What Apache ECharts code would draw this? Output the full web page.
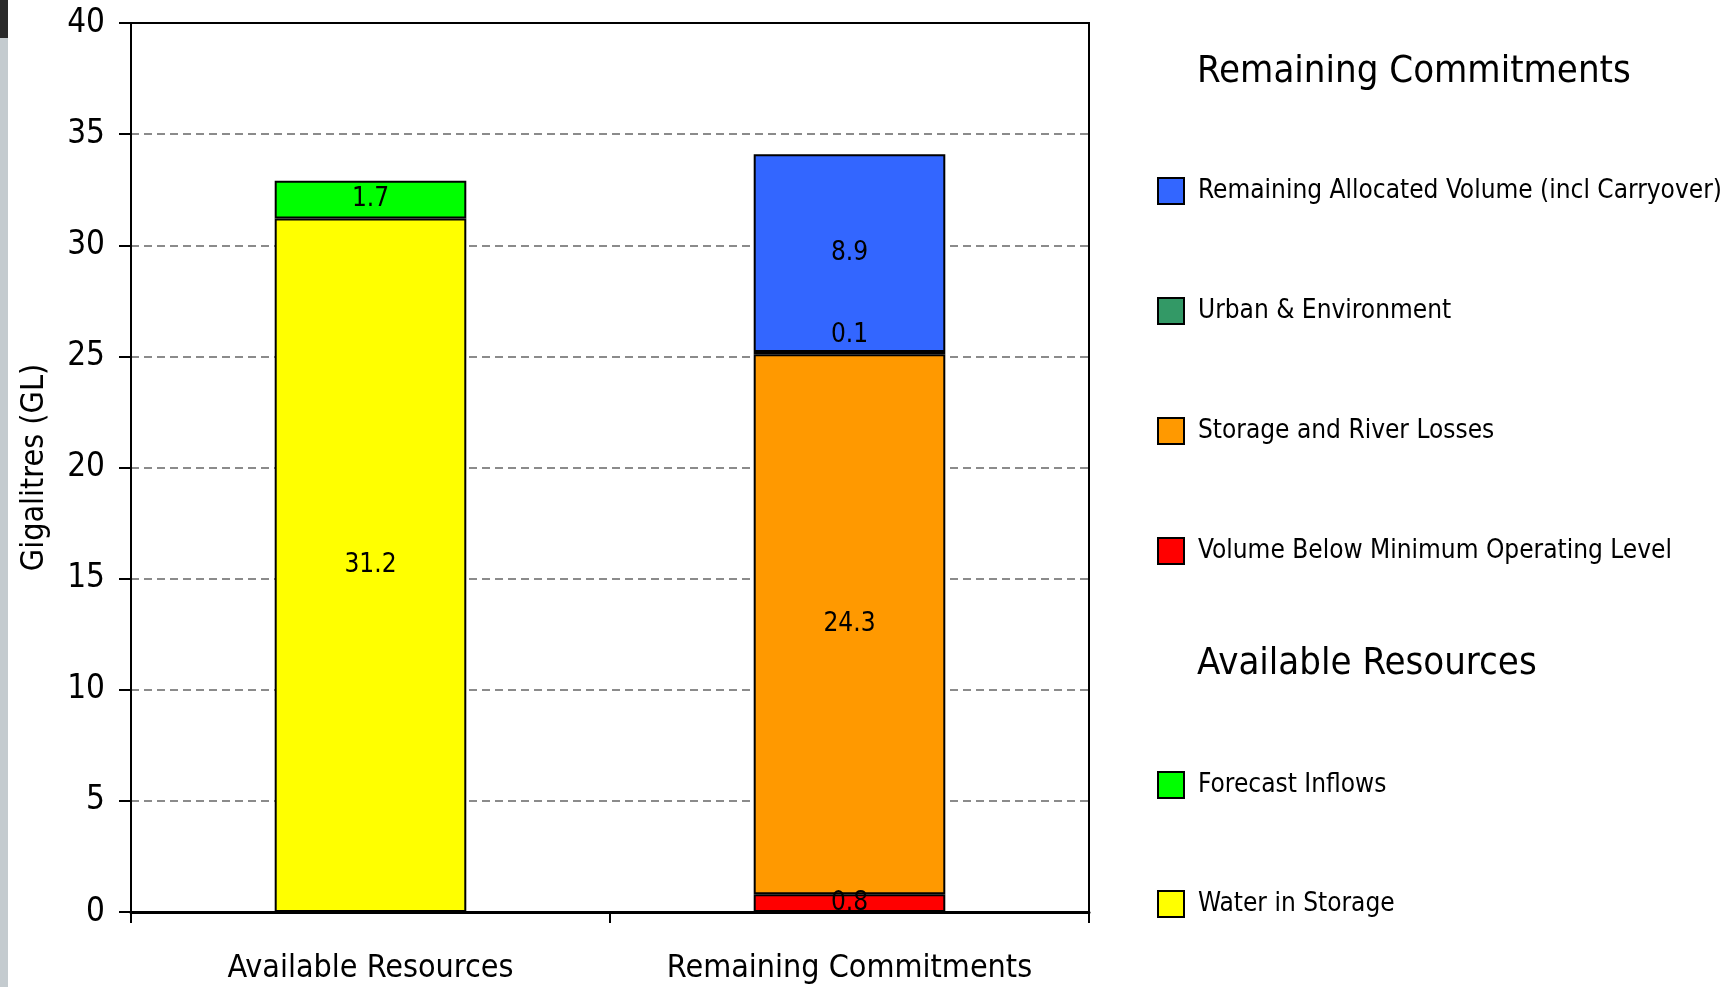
<!DOCTYPE html>
<html>
<head>
<meta charset="utf-8">
<script src="https://cdn.jsdelivr.net/npm/echarts@6/dist/echarts.min.js"></script>
<style>
html,body{margin:0;padding:0;background:#fff;}
#chart{width:1731px;height:987px;}
</style>
</head>
<body>
<div id="chart"></div>
<script>
var FONT = '"Liberation Sans Narrow","DejaVu Sans Condensed",sans-serif';

var categories = ['Available Resources', 'Remaining Commitments'];
var yTicks = { min: 0, max: 40, interval: 5 };

// Available Resources
var waterInStorage     = [31.2, '-'];
var forecastInflows    = [1.7, '-'];
// Remaining Commitments
var volumeBelowMin     = ['-', 0.8];
var storageRiverLosses = ['-', 24.3];
var urbanEnvironment   = ['-', 0.1];
var remainingAllocated = ['-', 8.9];

var legendCommitments = ['Remaining Allocated Volume (incl Carryover)', 'Urban & Environment', 'Storage and River Losses', 'Volume Below Minimum Operating Level'];
var legendResources = ['Forecast Inflows', 'Water in Storage'];

function bar(name, data, color, labelPos) {
  return {
    name: name,
    type: 'bar',
    stack: 'total',
    barWidth: '40%',
    data: data,
    itemStyle: { color: color, borderColor: '#000', borderWidth: 2 },
    label: {
      show: true,
      position: labelPos || 'inside',
      distance: 4,
      color: '#000',
      fontFamily: FONT,
      fontSize: 26,
      formatter: function (p) { return p.value; }
    },
    emphasis: { disabled: true }
  };
}

var legendText = { fontFamily: FONT, fontSize: 26, color: '#000', padding: [0, 0, 0, 9] };

var chart = echarts.init(document.getElementById('chart'), null, { renderer: 'canvas' });
chart.setOption({
  backgroundColor: '#fff',
  animation: false,
  textStyle: { fontFamily: FONT },
  title: [
    { text: 'Remaining Commitments', left: 1197, top: 53, padding: 0,
      textStyle: { fontFamily: FONT, fontSize: 38, fontWeight: 'normal', color: '#000' } },
    { text: 'Available Resources', left: 1197, top: 645, padding: 0,
      textStyle: { fontFamily: FONT, fontSize: 38, fontWeight: 'normal', color: '#000' } }
  ],
  legend: [
    { data: legendCommitments, orient: 'vertical', left: 1157, top: 177, padding: 0,
      icon: 'rect', itemWidth: 26, itemHeight: 26, itemGap: 92,
      textStyle: legendText, selectedMode: false },
    { data: legendResources, orient: 'vertical', left: 1157, top: 771, padding: 0,
      icon: 'rect', itemWidth: 26, itemHeight: 26, itemGap: 91,
      textStyle: legendText, selectedMode: false }
  ],
  grid: { left: 131, right: 642, top: 23, bottom: 75, show: true, borderColor: '#000', borderWidth: 2, backgroundColor: 'transparent' },
  xAxis: {
    type: 'category',
    data: categories,
    axisLine: { show: true, lineStyle: { color: '#000', width: 3 } },
    axisTick: { show: true, length: 11, alignWithLabel: false, lineStyle: { color: '#000', width: 2 } },
    axisLabel: { color: '#000', fontFamily: FONT, fontSize: 32, margin: 41, interval: 0 },
    splitLine: { show: false }
  },
  yAxis: {
    type: 'value',
    min: yTicks.min, max: yTicks.max, interval: yTicks.interval,
    name: 'Gigalitres (GL)',
    nameLocation: 'middle',
    nameGap: 80,
    nameTextStyle: { color: '#000', fontFamily: FONT, fontSize: 32 },
    axisLine: { show: true, lineStyle: { color: '#000', width: 2 } },
    axisTick: { show: true, inside: false, length: 12, lineStyle: { color: '#000', width: 2 } },
    axisLabel: { color: '#000', fontFamily: FONT, fontSize: 33, margin: 26 },
    splitLine: { show: true, showMinLine: false, showMaxLine: false, lineStyle: { color: '#666', width: 1.5, type: [8, 5] } }
  },
  series: [
    bar('Water in Storage', waterInStorage, '#FFFF00'),
    bar('Forecast Inflows', forecastInflows, '#00FF00'),
    bar('Volume Below Minimum Operating Level', volumeBelowMin, '#FF0000'),
    bar('Storage and River Losses', storageRiverLosses, '#FF9900'),
    bar('Urban & Environment', urbanEnvironment, '#339966', 'top'),
    bar('Remaining Allocated Volume (incl Carryover)', remainingAllocated, '#3366FF')
  ],
  graphic: [
    { type: 'rect', left: 0, top: 0, shape: { width: 8, height: 987 }, style: { fill: '#c4cbcf' }, silent: true },
    { type: 'rect', left: 0, top: 0, shape: { width: 8, height: 38 }, style: { fill: '#2a2a2a' }, silent: true }
  ]
});
</script>
</body>
</html>
